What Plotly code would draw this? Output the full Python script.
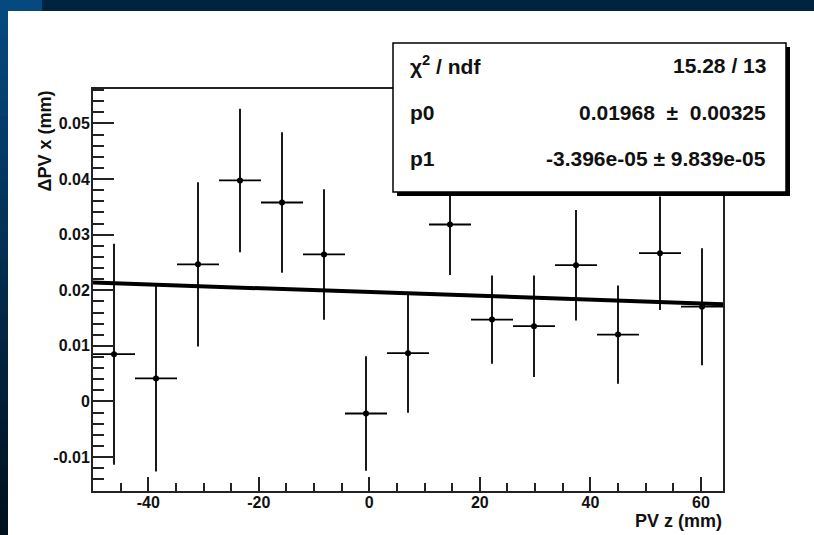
import plotly.graph_objects as go

# ---------------- data ----------------
bin_centers = [-46.2, -38.6, -31.0, -23.4, -15.8, -8.2, -0.6, 7.0, 14.6, 22.2, 29.8, 37.4, 45.0, 52.6, 60.2]
bin_half_width = [3.8] * 15
dpv_x = [0.00851, 0.00414, 0.02466, 0.03975, 0.03579, 0.02644, -0.00216, 0.00869,
         0.03183, 0.01473, 0.01354, 0.02451, 0.01203, 0.02667, 0.01705]
dpv_err = [0.01987, 0.01673, 0.01475, 0.01291, 0.01263, 0.01174, 0.01031, 0.01070,
           0.00906, 0.00795, 0.00914, 0.00993, 0.00885, 0.01020, 0.01052]

fit_p0 = 0.01968
fit_p1 = -3.396e-05
x_range = [-50.0, 64.0]
y_range = [-0.0161, 0.0562]

x_tickvals = [-40, -20, 0, 20, 40, 60]
x_ticktext = ["-40", "-20", "0", "20", "40", "60"]
y_tickvals = [-0.01, 0.0, 0.01, 0.02, 0.03, 0.04, 0.05]
y_ticktext = ["-0.01", "0", "0.01", "0.02", "0.03", "0.04", "0.05"]

stat_labels = ["χ<sup>2</sup> / ndf", "p0", "p1"]
stat_values = ["15.28 / 13", "0.01968\u00a0\u00a0±\u00a0\u00a00.00325", "-3.396e-05 ± 9.839e-05"]

x_title = "PV z (mm)"
y_title = "ΔPV x (mm)"

# ---------------- layout geometry ----------------
WIDTH, HEIGHT = 814, 535
ML, MR, MT, MB = 93, 91, 89, 44
PW = WIDTH - ML - MR
PH = HEIGHT - MT - MB


def px2x(px):
    return (px - ML) / PW


def py2y(py):
    return (HEIGHT - MB - py) / PH


FONT = "Liberation Sans, Arial, Helvetica, sans-serif"
TXT = "#111111"

fig = go.Figure()

# fit line (from fit parameters, across axis range)
fit_x = x_range
fit_y = [fit_p0 + fit_p1 * v for v in fit_x]
fig.add_trace(go.Scatter(x=fit_x, y=fit_y, mode="lines",
                         line=dict(color="black", width=4), hoverinfo="skip",
                         showlegend=False, cliponaxis=True))

# data points with error bars
fig.add_trace(go.Scatter(
    x=bin_centers, y=dpv_x, mode="markers",
    marker=dict(color="black", size=6, symbol="circle"),
    error_x=dict(type="data", array=bin_half_width, width=0, thickness=1.8, color="black"),
    error_y=dict(type="data", array=dpv_err, width=0, thickness=1.8, color="black"),
    showlegend=False, cliponaxis=True))

shapes = []

# slide background decoration (blue bands)
shapes.append(dict(type="rect", xref="paper", yref="paper",
                   x0=px2x(40), x1=px2x(WIDTH + 2), y0=py2y(11), y1=py2y(-2),
                   fillcolor="#00243f", line=dict(width=0), layer="below"))
shapes.append(dict(type="rect", xref="paper", yref="paper",
                   x0=px2x(-2), x1=px2x(42), y0=py2y(11), y1=py2y(-2),
                   fillcolor="#05497f", line=dict(width=0), layer="below"))
top_rgb = (5, 73, 127)
bot_rgb = (0, 16, 29)
n_seg = 40
y_start, y_end = 11, HEIGHT + 2
seg_h = (y_end - y_start) / n_seg
for i in range(n_seg):
    t = i / (n_seg - 1)
    c = tuple(round(top_rgb[k] + (bot_rgb[k] - top_rgb[k]) * t) for k in range(3))
    ya = y_start + seg_h * i
    yb = min(y_end, ya + seg_h + 3)
    shapes.append(dict(type="rect", xref="paper", yref="paper",
                       x0=px2x(-2), x1=px2x(8), y0=py2y(yb), y1=py2y(ya),
                       fillcolor="rgb(%d,%d,%d)" % c, line=dict(width=0), layer="below"))

# stats box: shadow + box
bx0, by0, bx1, by1 = 393, 43, 786, 192
shapes.append(dict(type="rect", xref="paper", yref="paper",
                   x0=px2x(bx0 + 4), x1=px2x(bx1 + 4), y0=py2y(by1 + 4), y1=py2y(by0 + 4),
                   fillcolor="black", line=dict(width=0), layer="above"))
shapes.append(dict(type="rect", xref="paper", yref="paper",
                   x0=px2x(bx0), x1=px2x(bx1), y0=py2y(by1), y1=py2y(by0),
                   fillcolor="white", line=dict(color="black", width=1.5), layer="above"))

annotations = []
row_y = [65, 112, 158]
for lab, val, ry in zip(stat_labels, stat_values, row_y):
    annotations.append(dict(text="<b>%s</b>" % lab, xref="paper", yref="paper",
                            x=px2x(408), y=py2y(ry), xanchor="left", yanchor="middle",
                            showarrow=False, font=dict(family=FONT, size=21, color=TXT)))
    annotations.append(dict(text="<b>%s</b>" % val, xref="paper", yref="paper",
                            x=px2x(768), y=py2y(ry), xanchor="right", yanchor="middle",
                            showarrow=False, font=dict(family=FONT, size=21, color=TXT)))

annotations.append(dict(text="<b>%s</b>" % x_title, xref="paper", yref="paper",
                        x=px2x(724), y=py2y(521), xanchor="right", yanchor="middle",
                        showarrow=False, font=dict(family=FONT, size=18, color=TXT)))
annotations.append(dict(text="<b>%s</b>" % y_title, xref="paper", yref="paper",
                        x=px2x(44), y=py2y(89), xanchor="center", yanchor="top",
                        textangle=-90, showarrow=False,
                        font=dict(family=FONT, size=18, color=TXT)))

axis_common = dict(showline=True, mirror=True, linecolor="#222222", linewidth=2,
                   showgrid=False, zeroline=False, ticks="inside", tickcolor="#222222",
                   tickwidth=2,
                   tickfont=dict(family=FONT, size=16, color=TXT, weight="bold"))

fig.update_layout(
    width=WIDTH, height=HEIGHT,
    margin=dict(l=ML, r=MR, t=MT, b=MB, pad=0),
    paper_bgcolor="white", plot_bgcolor="white",
    showlegend=False,
    xaxis=dict(range=x_range, tickvals=x_tickvals, ticktext=x_ticktext, ticklen=14,
               ticklabelstandoff=-4,
               minor=dict(dtick=5, tick0=0, ticks="inside", ticklen=8, tickwidth=1.6,
                          tickcolor="#222222", showgrid=False),
               **axis_common),
    yaxis=dict(range=y_range, tickvals=y_tickvals, ticktext=y_ticktext, ticklen=21,
               ticklabelstandoff=-2,
               minor=dict(dtick=0.002, tick0=0, ticks="inside", ticklen=11, tickwidth=1.6,
                          tickcolor="#222222", showgrid=False),
               **axis_common),
    shapes=shapes,
    annotations=annotations,
)

fig.write_html("out.html")
